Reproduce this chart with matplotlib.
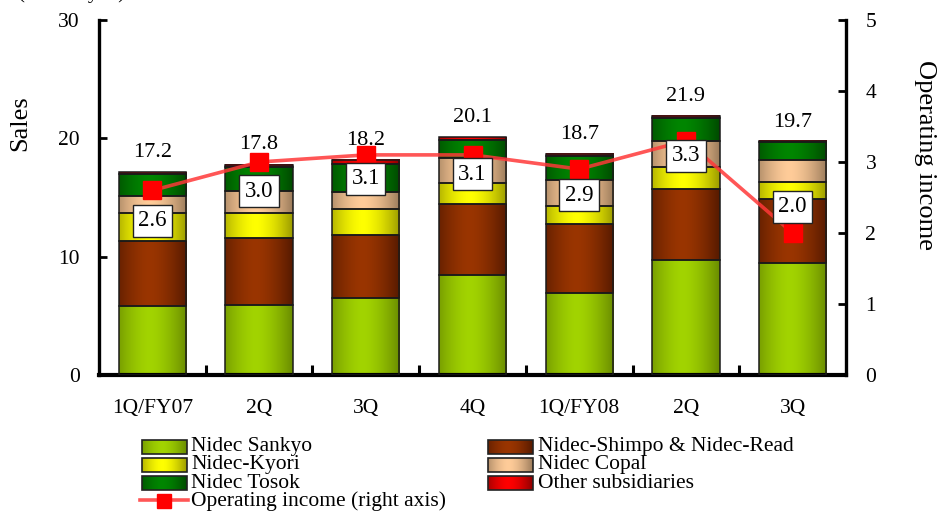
import numpy as np
import matplotlib
matplotlib.use("Agg")
import matplotlib.pyplot as plt
from matplotlib.colors import to_rgb

plt.rcParams['font.family'] = ['Liberation Serif', 'DejaVu Serif']

# ---------------- data ----------------
categories = ["1Q/FY07", "2Q", "3Q", "4Q", "1Q/FY08", "2Q", "3Q"]
sankyo = [5.8, 5.9, 6.5, 8.45, 6.95, 9.7, 9.5]
shimpo_read = [5.5, 5.65, 5.3, 6.0, 5.8, 6.05, 5.4]
kyori = [2.4, 2.1, 2.2, 1.75, 1.55, 1.85, 1.4]
copal = [1.45, 1.9, 1.45, 2.1, 2.2, 2.2, 1.85]
tosok = [1.85, 2.0, 2.4, 1.55, 2.0, 1.9, 1.5]
others = [0.15, 0.2, 0.35, 0.25, 0.2, 0.2, 0.1]
sales_total = [17.2, 17.8, 18.2, 20.1, 18.7, 21.9, 19.7]
operating_income = [2.6, 3.0, 3.1, 3.1, 2.9, 3.3, 2.0]

series_names = ["Nidec Sankyo", "Nidec-Shimpo & Nidec-Read", "Nidec-Kyori",
                "Nidec Copal", "Nidec Tosok", "Other subsidiaries"]
series_values = [sankyo, shimpo_read, kyori, copal, tosok, others]
# (dark edge, bright centre) colours
series_colors = [("#6a8c00", "#a2d400"), ("#561a00", "#9a3500"),
                 ("#9c9c00", "#ffff00"), ("#9c7c5c", "#ffcc99"),
                 ("#004a00", "#008600"), ("#8c0000", "#ff0000")]

# label offsets for operating-income boxes (points)
oi_label_offsets = [-22, -21, -17, -14, -19, -11, 19]

# ---------------- figure ----------------
W, H = 938, 516
fig = plt.figure(figsize=(W / 100, H / 100), dpi=100)
L, R, T, B = 99, 846, 20, 375
ax = fig.add_axes([L / W, 1 - B / H, (R - L) / W, (B - T) / H])


def grad(dark, bright, n=80):
    d = np.array(to_rgb(dark)); b = np.array(to_rgb(bright))
    x = np.linspace(0, 1, n)
    t = 1 - np.abs(2 * (x - 0.45) / 1.1) ** 1.6
    t = np.clip(t, 0, 1)
    return (d[None, :] + (b - d)[None, :] * t[:, None])[None, :, :]


x = np.arange(len(categories))
bottom = np.zeros(len(categories))
for name, vals, (dk, br) in zip(series_names, series_values, series_colors):
    bars = ax.bar(x, vals, width=0.63, bottom=bottom, facecolor='none',
                  edgecolor='#1a1a1a', linewidth=1.1, zorder=3)
    img = grad(dk, br)
    for r in bars.patches:
        ax.imshow(img, extent=[r.get_x(), r.get_x() + r.get_width(),
                               r.get_y(), r.get_y() + r.get_height()],
                  aspect='auto', interpolation='bilinear', zorder=2)
    bottom = bottom + np.array(vals)

for xi, tot in zip(x, sales_total):
    ax.annotate(f"{tot:.1f}", (xi, tot), xytext=(0, 14), textcoords='offset points',
                ha='center', va='center', fontsize=16, zorder=5)

ax.set_xlim(-0.5, len(categories) - 0.5)
ax.set_ylim(0, 30)
ax.set_yticks([0, 10, 20, 30])
ax.set_xticks(x)
ax.set_xticklabels(categories, fontsize=15.5)
ax.set_xticks(np.arange(len(categories) - 1) + 0.5, minor=True)
ax.tick_params(axis='x', which='major', length=0, pad=17)
ax.tick_params(axis='x', which='minor', direction='in', length=7, width=2.2)
ax.tick_params(axis='y', direction='in', length=6, width=2, pad=14, labelsize=15.5)
for s in ['top', 'right']:
    ax.spines[s].set_visible(False)
ax.spines['left'].set_linewidth(2.4)
ax.spines['bottom'].set_linewidth(3.0)

ax2 = ax.twinx()
ax2.set_ylim(0, 5)
ax2.set_yticks(range(6))
ax2.tick_params(axis='y', direction='in', length=6, width=2, pad=14, labelsize=15.5)
for s in ['top', 'left', 'bottom']:
    ax2.spines[s].set_visible(False)
ax2.spines['right'].set_linewidth(2.4)
ax2.plot(x, operating_income, color=(1, 0.22, 0.22, 0.85), lw=2.6, marker='s',
         ms=13, mfc='#ff0000', mec='#ff0000', zorder=4)
for xi, v, off in zip(x, operating_income, oi_label_offsets):
    ax2.annotate(f"{v:.1f}", (xi, v), xytext=(0, off), textcoords='offset points',
                 ha='center', va='center', fontsize=16.5, zorder=6,
                 bbox=dict(boxstyle='square,pad=0.24', fc='white', ec='#222222', lw=1.0))

fig.text(20 / W, 1 - 123 / H, "Sales", rotation=90, ha='center', va='center', fontsize=19)
fig.text(925 / W, 1 - 155 / H, "Operating income", rotation=270, ha='center',
         va='center', fontsize=19)
fig.text(18 / W, 1 + 1.8 / H, "(Billion yen)", ha='left', va='baseline', fontsize=15)

# ---------------- legend (drawn in pixel coordinates) ----------------
lax = fig.add_axes([0, 0, 1, 1])
lax.set_xlim(0, W); lax.set_ylim(H, 0)
lax.axis('off')
lax.patch.set_visible(False)
rows = [447, 465, 483, 501]
cols = [(142, 187, 191), (488, 533, 538)]
slots = [(0, 0), (1, 0), (0, 1), (1, 1), (0, 2), (1, 2)]
for (ci, ri), name, (dk, br) in zip(slots, series_names, series_colors):
    x0, x1, tx = cols[ci]
    yc = rows[ri]
    lax.imshow(grad(dk, br), extent=[x0, x1, yc + 7, yc - 7], aspect='auto',
               interpolation='bilinear', zorder=2)
    lax.add_patch(plt.Rectangle((x0, yc - 7), x1 - x0, 14, fill=False,
                                ec='#222222', lw=1.2, zorder=3))
    lax.text(tx, yc, name, ha='left', va='center', fontsize=15.5)
lax.plot([140, 188], [rows[3] - 1, rows[3] - 1], color=(1, 0.22, 0.22, 0.85), lw=2.6)
lax.plot([164], [rows[3]], marker='s', ms=10.5, mfc='#ff0000', mec='#ff0000')
lax.text(191, rows[3], "Operating income (right axis)", ha='left', va='center',
         fontsize=15.5)
lax.set_xlim(0, W); lax.set_ylim(H, 0)

fig.savefig("out.png", dpi=100)
